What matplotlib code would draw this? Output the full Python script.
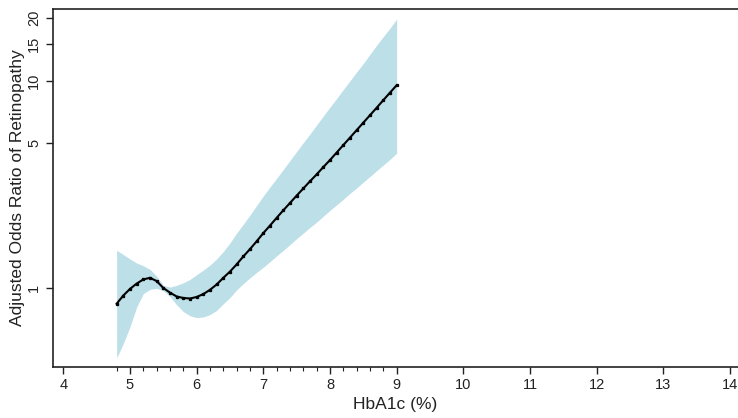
import matplotlib
matplotlib.use("Agg")
import matplotlib.pyplot as plt
import numpy as np
from matplotlib.ticker import FixedLocator, NullLocator, FixedFormatter

plt.rcParams['font.family'] = ['Liberation Sans', 'DejaVu Sans']

# HbA1c grid (%)
hba1c = [4.8, 4.9, 5.0, 5.1, 5.2, 5.3, 5.4, 5.5, 5.6, 5.7,
         5.8, 5.9, 6.0, 6.1, 6.2, 6.3, 6.4, 6.5, 6.6, 6.7,
         6.8, 6.9, 7.0, 7.1, 7.2, 7.3, 7.4, 7.5, 7.6, 7.7,
         7.8, 7.9, 8.0, 8.1, 8.2, 8.3, 8.4, 8.5, 8.6, 8.7,
         8.8, 8.9, 9.0]

odds = [0.84, 0.92, 0.99, 1.05, 1.10, 1.12, 1.08, 1.00, 0.95, 0.91,
        0.895, 0.89, 0.905, 0.935, 0.98, 1.04, 1.12, 1.20, 1.30, 1.42,
        1.54, 1.68, 1.84, 2.00, 2.18, 2.37, 2.57, 2.79, 3.02, 3.27,
        3.53, 3.83, 4.14, 4.50, 4.89, 5.31, 5.77, 6.27, 6.81, 7.40,
        8.05, 8.75, 9.50]

upper = [1.52, 1.45, 1.38, 1.32, 1.28, 1.23, 1.14, 1.03, 1.01, 1.03,
         1.06, 1.10, 1.16, 1.22, 1.29, 1.38, 1.50, 1.65, 1.84, 2.03,
         2.25, 2.50, 2.78, 3.07, 3.38, 3.73, 4.12, 4.55, 5.02, 5.53,
         6.11, 6.75, 7.45, 8.20, 9.06, 9.98, 11.0, 12.1, 13.4, 14.8,
         16.3, 17.9, 19.8]

lower = [0.46, 0.54, 0.65, 0.81, 0.94, 0.985, 0.997, 0.97, 0.91, 0.83,
         0.77, 0.735, 0.72, 0.725, 0.745, 0.78, 0.84, 0.90, 0.98, 1.05,
         1.12, 1.19, 1.26, 1.34, 1.43, 1.52, 1.62, 1.73, 1.84, 1.96,
         2.08, 2.22, 2.37, 2.52, 2.68, 2.86, 3.04, 3.24, 3.45, 3.68,
         3.92, 4.17, 4.47]

x_ticks = [4, 5, 6, 7, 8, 9, 10, 11, 12, 13, 14]
y_ticks = [1, 5, 10, 15, 20]
rug = [4.8, 5.2, 5.4, 5.6, 5.8, 6.2, 6.4, 6.6, 6.8, 7.2, 7.4, 7.6, 7.8,
       8.2, 8.4, 8.6, 8.8]

fig = plt.figure(figsize=(7.38, 4.18), dpi=100)
ax = fig.add_axes([0.0718, 0.122, 0.9282, 0.856])

ax.fill_between(hba1c, lower, upper, color='#bcdfe8', linewidth=0)
ax.plot(hba1c, odds, color='black', linewidth=1.5, marker='s', markersize=1.4)

ax.set_yscale('log')
ax.set_xlim(3.845, 14.12)
ax.set_ylim(0.416, 22.1)

ax.yaxis.set_major_locator(FixedLocator(y_ticks))
ax.yaxis.set_major_formatter(FixedFormatter([str(v) for v in y_ticks]))
ax.yaxis.set_minor_locator(NullLocator())
ax.xaxis.set_major_locator(FixedLocator(x_ticks))
ax.xaxis.set_minor_locator(FixedLocator(rug))

for lab in ax.get_yticklabels():
    lab.set_rotation(90)
    lab.set_va('center')

ax.tick_params(axis='both', which='major', length=5, width=1, labelsize=10.5,
               colors='#222222', direction='out')
ax.tick_params(axis='x', which='minor', length=3, width=0.8, color='#222222')
ax.tick_params(axis='x', pad=3)

ax.spines['right'].set_visible(False)
for s in ['left', 'top', 'bottom']:
    ax.spines[s].set_color('#222222')
    ax.spines[s].set_linewidth(1.2)

ax.set_xlabel('HbA1c (%)', fontsize=12.5, color='#222222')
ax.set_ylabel('Adjusted Odds Ratio of Retinopathy', fontsize=12.5, color='#222222')
ax.xaxis.set_label_coords(0.5, -0.083)
ax.yaxis.set_label_coords(-0.041, 0.5)

fig.savefig('out.png', dpi=100)
